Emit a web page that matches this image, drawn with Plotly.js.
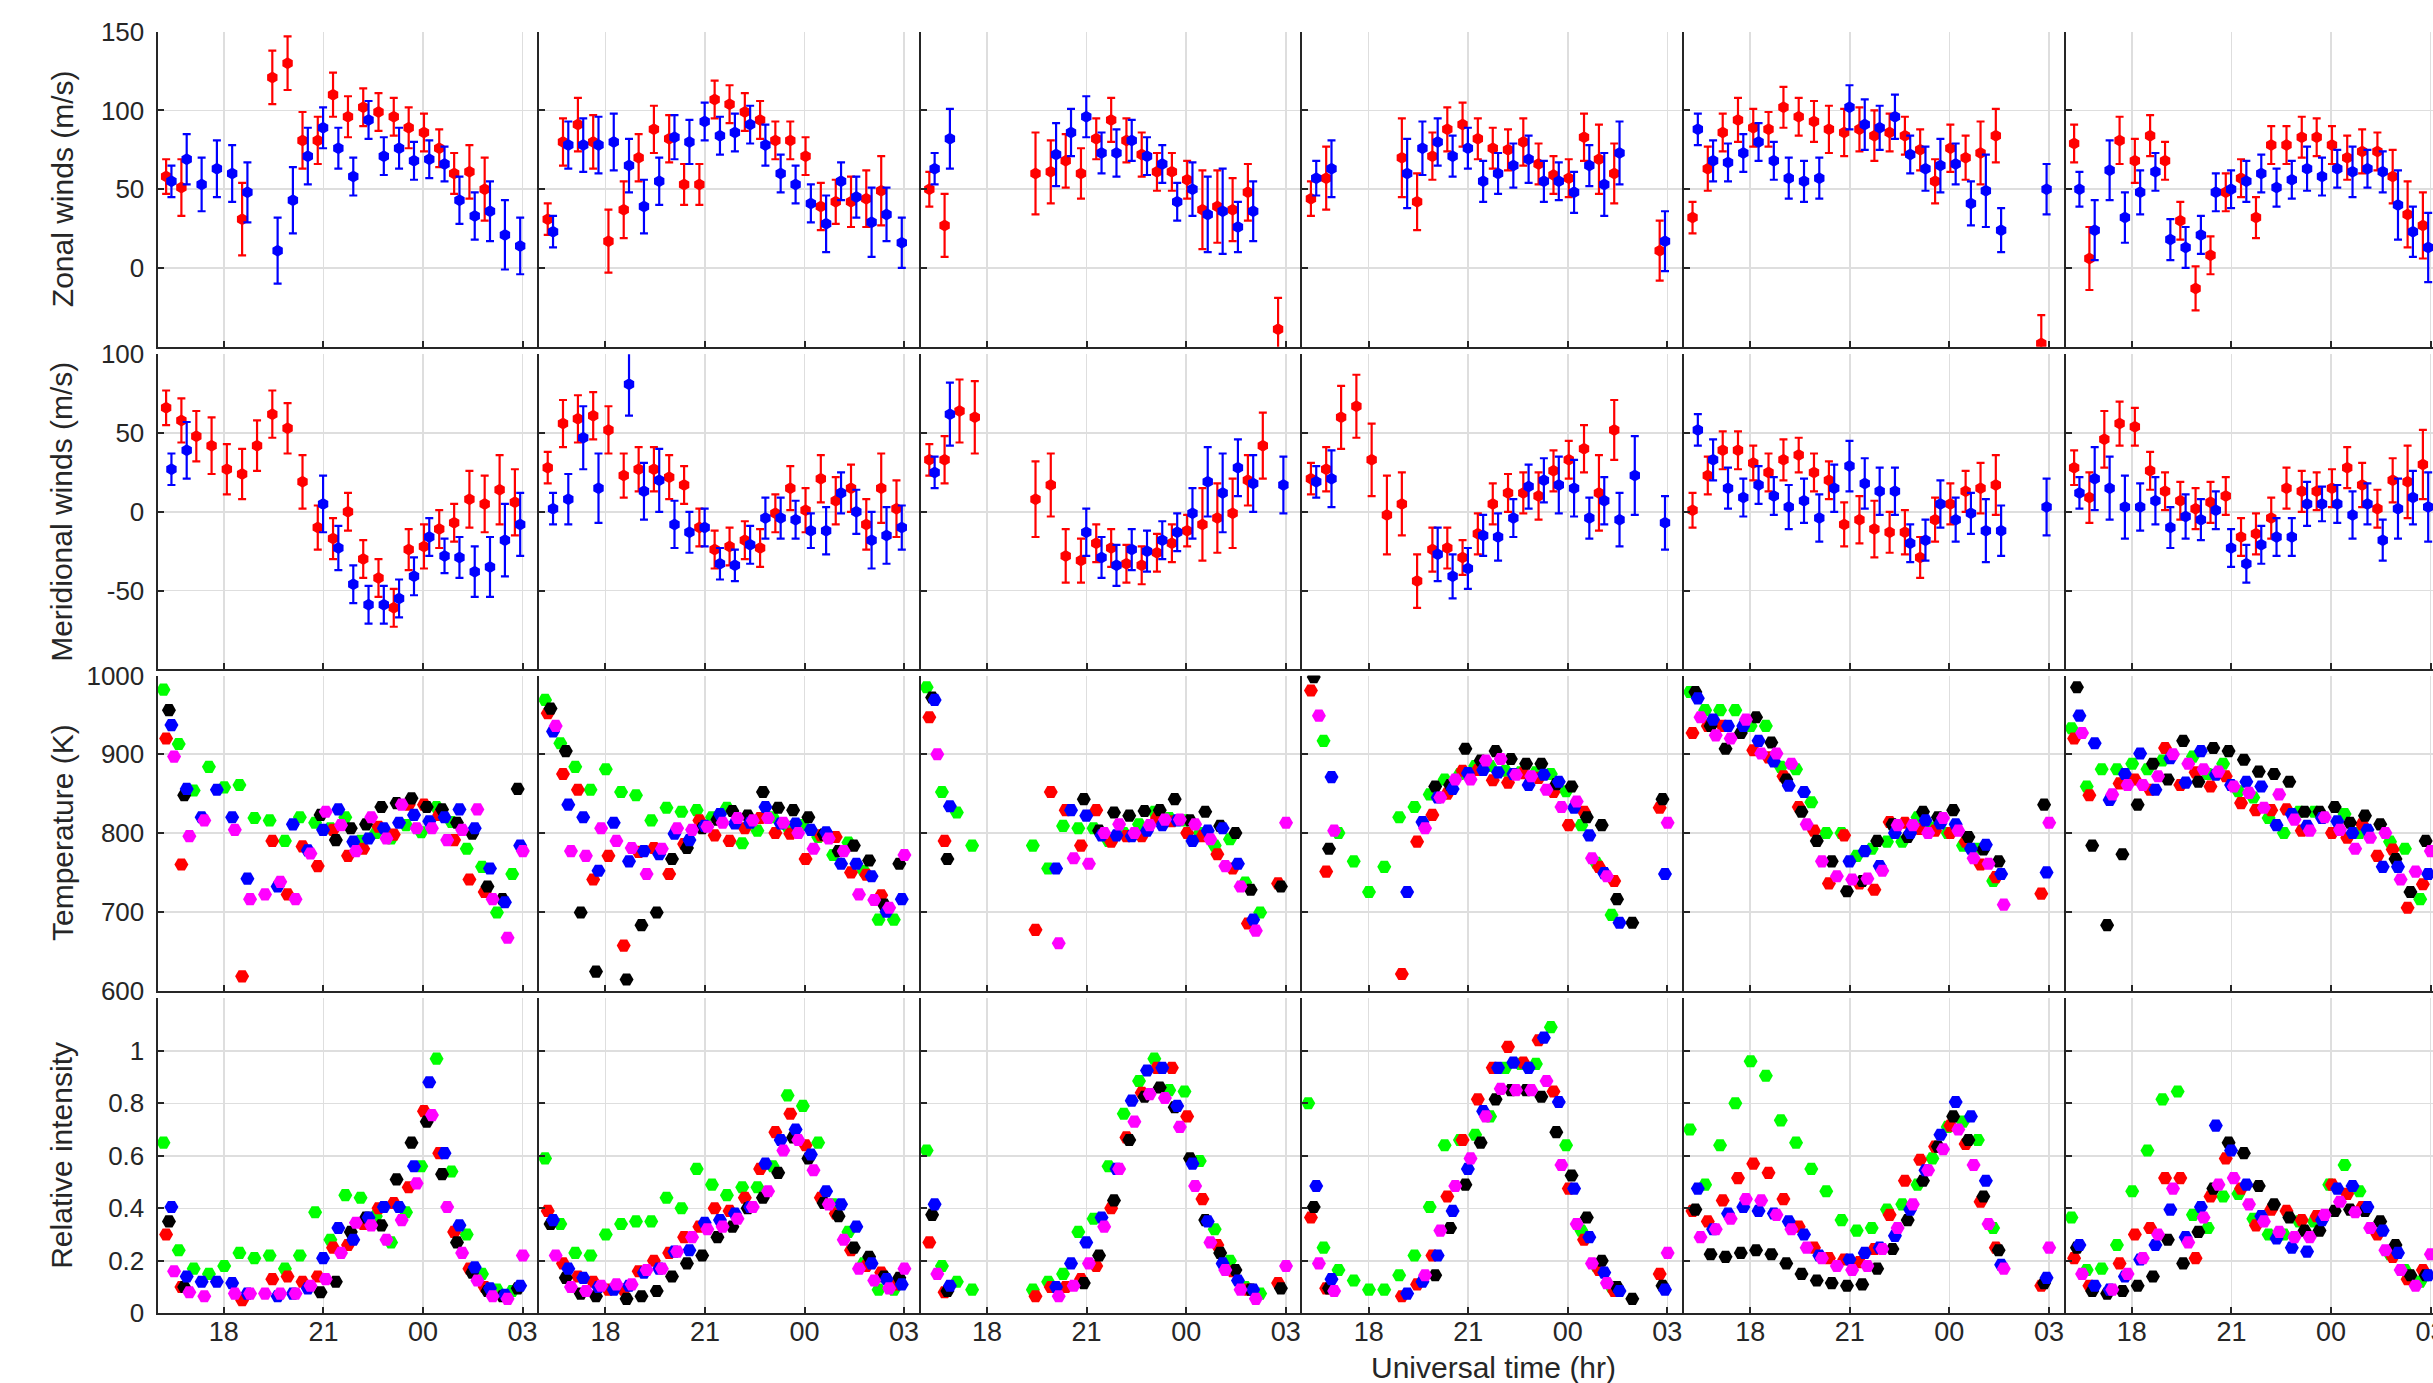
<!DOCTYPE html>
<html><head><meta charset="utf-8">
<script src="https://cdn.plot.ly/plotly-3.0.1.min.js"></script>
<style>html,body{margin:0;padding:0;overflow:hidden;background:#fff}</style>
</head><body><div id="chart"></div>
<script>
const N = null;
// sampling cycle start times (hours UT, >24 = after midnight) and per-filter lag (hours)
const cycleStart = [16.18,16.64,17.09,17.55,18.01,18.47,18.92,19.38,19.84,20.29,20.75,21.21,21.66,22.12,22.58,23.04,23.49,23.95,24.41,24.86,25.32,25.78,26.23,26.69];
const filterLag = {green:0, red:0.08, black:0.165, blue:0.24, magenta:0.32};
const timeTickVals = [18,21,24,27];
const timeTickText = ['18','21','00','03'];
const rowTitles = ['Zonal winds (m/s)','Meridional winds (m/s)','Temperature (K)','Relative intensity'];
const xTitle = 'Universal time (hr)';

// ---- Night 1 ----
const zonRed1=[58,51,N,N,N,31,N,121,130,81,81,110,96,102,99,96,89,86,76,60,61,50,N,N];
const zonRedErr1=[11,18,0,0,0,23,0,17,17,18,15,14,13,12,12,12,13,12,12,13,17,20,0,0];
const zonBlue1=[55,69,53,63,60,48,N,11,43,71,89,76,58,94,71,76,68,69,66,43,33,36,21,14];
const zonBlueErr1=[10,16,17,18,18,19,0,21,21,18,13,13,12,12,12,13,12,12,11,15,15,19,22,18];
const merRed1=[66,58,48,42,27,24,42,62,53,19,-10,-17,0,-30,-42,-61,-24,-22,-11,-7,8,5,14,6];
const merRedErr1=[11,14,16,18,16,16,16,15,16,17,14,13,12,12,12,12,13,14,12,12,18,18,22,21];
const merBlue1=[27,39,N,N,N,N,N,N,N,N,5,-23,-46,-59,-59,-55,-41,-16,-28,-29,-38,-35,-18,-8];
const merBlueErr1=[10,18,0,0,0,0,0,0,0,0,18,14,12,12,12,12,12,12,11,13,16,19,23,20];
const tGreen1=[982,913,854,884,858,861,819,816,790,820,813,806,820,790,800,793,810,801,833,814,780,757,699,748];
const tRed1=[920,760,N,N,N,618,N,790,722,783,758,804,771,780,808,798,836,836,823,791,741,725,N,N];
const tBlack1=[956,848,N,N,N,N,N,N,N,N,823,791,806,811,833,838,844,833,830,813,799,732,716,856];
const tBlue1=[937,856,820,855,820,742,N,732,811,778,804,830,789,793,806,813,823,815,820,830,806,755,712,784];
const tMag1=[897,796,816,N,804,716,722,738,716,774,827,810,777,820,793,836,806,806,791,804,830,716,667,777];
const iGreen1=[0.65,0.24,0.17,0.15,0.18,0.23,0.21,0.22,0.17,0.22,0.385,0.28,0.45,0.44,0.37,0.27,0.385,0.56,0.97,0.54,0.30,0.15,0.09,0.085];
const iRed1=[0.30,0.10,N,N,N,0.05,N,0.13,0.14,0.12,0.14,0.25,0.26,0.34,0.40,0.42,0.48,0.77,0.61,0.31,0.17,0.10,N,N];
const iBlack1=[0.35,0.10,N,N,N,N,N,N,N,N,0.08,0.12,0.31,0.365,0.335,0.51,0.65,0.73,0.53,0.27,0.155,0.085,0.065,0.095];
const iBlue1=[0.405,0.14,0.12,0.12,0.115,0.075,N,0.065,0.075,0.095,0.21,0.325,0.28,0.365,0.405,0.405,0.56,0.88,0.61,0.335,0.175,0.095,0.07,0.105];
const iMag1=[0.16,0.08,0.065,N,0.075,0.075,0.075,0.075,0.075,0.105,0.13,0.23,0.345,0.335,0.28,0.355,0.495,0.755,0.405,0.23,0.125,0.065,0.055,0.22];

// ---- Night 2 ----
const zonRed2=[31,80,91,80,17,37,70,88,82,53,53,107,104,99,94,81,81,71,39,42,42,44,49,N];
const zonRedErr2=[10,15,17,17,20,18,15,15,15,13,13,12,12,12,12,12,12,12,15,14,16,18,22,0];
const zonBlue2=[23,78,78,78,80,65,39,55,83,80,93,84,86,91,78,60,53,41,28,55,45,29,34,16];
const zonBlueErr2=[10,15,17,18,18,17,17,15,14,14,12,12,12,12,13,12,12,12,18,12,13,22,17,16];
const merRed2=[28,56,59,61,52,23,27,27,22,17,-10,-24,-22,-18,-23,-1,15,1,21,7,15,-8,15,2];
const merRedErr2=[10,15,15,15,15,14,14,14,14,12,12,12,12,12,12,12,14,14,15,15,15,16,22,18];
const merBlue2=[2,8,47,15,N,81,13,20,-8,-13,-10,-33,-34,-21,-4,-4,-5,-12,-12,12,0,-18,-15,-10];
const merBlueErr2=[10,16,20,22,0,20,18,20,15,13,12,10,10,12,13,13,12,11,15,13,14,18,18,14];
const tGreen2=[969,914,884,855,881,852,848,816,832,827,829,820,832,787,803,820,808,810,795,772,788,752,690,690];
const tRed2=[952,875,855,741,771,657,776,781,748,786,816,797,790,806,819,800,799,767,797,795,750,747,721,N];
const tBlack2=[958,904,699,624,N,614,683,699,767,781,806,817,828,822,852,832,829,820,798,777,784,765,709,761];
const tBlue2=[929,836,820,752,813,764,777,773,799,791,809,824,812,813,833,812,812,804,801,761,761,745,700,716];
const tMag2=[936,777,771,806,790,781,748,780,806,804,808,813,819,816,819,813,800,780,793,777,722,715,705,772];
const iGreen2=[0.59,0.34,0.23,0.22,0.30,0.34,0.35,0.35,0.44,0.40,0.55,0.49,0.45,0.48,0.48,0.56,0.83,0.79,0.65,0.415,0.31,0.19,0.09,0.09];
const iRed2=[0.39,0.19,0.14,0.12,0.09,0.09,0.16,0.20,0.23,0.29,0.33,0.40,0.39,0.44,0.55,0.69,0.76,0.64,0.44,0.38,0.24,0.18,0.155,0.11];
const iBlack2=[0.34,0.135,0.075,0.065,N,0.055,0.065,0.085,0.14,0.19,0.22,0.29,0.33,0.40,0.44,0.535,0.67,0.59,0.42,0.37,0.25,0.215,0.14,0.135];
const iBlue2=[0.355,0.17,0.135,0.10,0.09,0.105,0.155,0.17,0.235,0.24,0.345,0.355,0.38,0.405,0.57,0.66,0.70,0.605,0.465,0.415,0.33,0.19,0.13,0.11];
const iMag2=[0.22,0.10,0.085,0.105,0.11,0.11,0.165,0.17,0.235,0.29,0.32,0.33,0.36,0.405,0.465,0.62,0.66,0.545,0.415,0.28,0.17,0.125,0.095,0.17];

// ---- Night 3 ----
const zonRed3=[50,27,N,N,N,N,N,60,61,68,60,82,94,81,72,61,61,56,37,39,37,48,N,-39];
const zonRedErr3=[11,20,0,0,0,0,0,26,20,17,16,13,14,14,14,12,12,12,25,23,20,18,0,20];
const zonBlue3=[63,82,N,N,N,N,N,N,72,86,96,73,73,81,71,66,42,50,34,36,26,36,N,N];
const zonBlueErr3=[10,19,0,0,0,0,0,0,20,15,13,13,15,13,12,12,12,17,24,27,16,19,0,0];
const merRed3=[33,33,64,60,N,N,N,8,17,-28,-31,-20,-23,-33,-34,-26,-20,-12,-8,-4,-1,20,42,N];
const merRedErr3=[10,15,20,23,0,0,0,24,20,17,14,12,12,12,12,12,12,10,23,22,22,16,21,0];
const merBlue3=[25,62,N,N,N,N,N,N,N,N,-13,-29,-34,-24,-25,-18,-13,-1,19,12,28,18,N,17];
const merBlueErr3=[10,20,0,0,0,0,0,0,0,0,15,13,13,13,13,12,12,16,22,25,18,18,0,18];
const tGreen3=[985,852,826,784,N,N,N,784,755,809,806,806,790,800,811,827,819,816,800,784,792,737,699,N];
const tRed3=[947,790,N,N,N,N,N,677,852,829,784,829,789,796,796,819,815,800,796,773,755,685,N,736];
const tBlack3=[972,767,N,N,N,N,N,N,N,N,843,803,826,822,828,829,843,816,827,809,800,728,N,732];
const tBlue3=[969,834,N,N,N,N,N,N,755,829,822,797,797,796,803,810,816,790,803,806,761,690,N,N];
const tMag3=[900,N,N,N,N,N,N,N,660,768,761,800,811,800,810,817,817,811,792,758,732,676,N,813];
const iGreen3=[0.62,0.18,0.12,0.09,N,N,N,0.09,0.12,0.15,0.31,0.36,0.56,0.76,0.885,0.97,0.85,0.845,0.58,0.32,0.20,0.10,0.075,N];
const iRed3=[0.27,0.08,N,N,N,N,N,0.065,0.10,0.10,0.13,0.18,0.40,0.67,0.84,0.935,0.935,0.75,0.435,0.26,0.16,0.09,N,0.115];
const iBlack3=[0.375,0.085,N,N,N,N,N,N,N,N,0.115,0.22,0.43,0.66,0.825,0.86,0.785,0.59,0.355,0.23,0.165,0.09,N,0.095];
const iBlue3=[0.415,0.105,N,N,N,N,N,N,0.10,0.19,0.27,0.365,0.55,0.81,0.925,0.935,0.79,0.57,0.35,0.19,0.125,0.09,N,N];
const iMag3=[0.15,N,N,N,N,N,N,N,0.065,0.105,0.19,0.33,0.55,0.73,0.835,0.82,0.71,0.485,0.27,0.165,0.09,0.055,N,0.18];

// ---- Night 4 ----
const zonRed4=[44,57,N,N,N,N,70,42,71,88,91,82,76,75,80,66,59,57,83,69,60,N,N,11];
const zonRedErr4=[11,20,0,0,0,0,25,18,15,14,14,13,13,13,15,13,12,12,15,22,19,0,0,19];
const zonBlue4=[57,63,N,N,N,N,60,76,80,71,76,55,60,65,69,55,55,48,65,53,73,N,N,17];
const zonBlueErr4=[11,18,0,0,0,0,22,17,15,13,13,13,13,14,15,13,12,13,13,20,20,0,0,19];
const merRed4=[21,27,60,67,33,-2,5,-44,-24,-23,-29,-14,5,12,12,10,26,33,40,12,52,N,N,N];
const merRedErr4=[10,14,20,20,23,25,20,17,14,13,11,13,13,12,13,15,13,12,15,24,19,0,0,0];
const merBlue4=[19,21,N,N,N,N,N,N,-27,-41,-36,-15,-16,-4,16,20,17,15,-4,7,-5,23,N,-7];
const merBlueErr4=[10,18,0,0,0,0,0,0,17,14,13,13,15,12,14,14,18,18,13,15,17,25,0,17];
const tGreen4=[N,917,800,764,725,757,820,833,849,868,875,885,885,879,877,877,875,853,810,762,696,N,N,N];
const tRed4=[981,751,N,N,N,N,621,789,823,850,879,880,867,864,876,870,852,810,827,757,739,N,N,832];
const tBlack4=[998,780,N,N,N,N,N,N,859,861,907,892,904,894,888,888,862,859,820,810,716,686,N,843];
const tBlue4=[N,871,N,N,N,N,725,814,845,856,876,880,877,875,861,874,865,832,797,749,686,N,N,748];
const tMag4=[949,803,N,N,N,N,N,806,845,868,868,892,894,874,872,855,833,840,768,745,N,N,N,813];
const iGreen4=[0.80,0.25,0.165,0.125,0.09,0.09,0.145,0.22,0.405,0.64,0.66,0.68,0.75,0.935,0.95,0.95,1.09,0.64,0.315,0.18,0.10,N,N,N];
const iRed4=[0.365,0.095,N,N,N,N,0.065,0.11,0.22,0.445,0.66,0.815,0.935,1.015,0.955,1.04,0.845,0.475,0.28,0.165,0.085,N,N,0.15];
const iBlack4=[0.405,0.095,N,N,N,N,N,N,0.145,0.325,0.49,0.65,0.815,0.85,0.85,0.825,0.69,0.525,0.365,0.20,0.10,0.055,N,0.105];
const iBlue4=[0.485,0.13,N,N,N,N,0.075,0.12,0.22,0.39,0.55,0.77,0.935,0.955,0.935,1.05,0.805,0.475,0.29,0.155,0.085,N,N,0.09];
const iMag4=[0.19,0.085,N,N,N,N,N,0.145,0.315,0.485,0.59,0.75,0.855,0.85,0.85,0.885,0.565,0.34,0.19,0.115,N,N,N,0.23];

// ---- Night 5 ----
const zonRed5=[32,63,86,94,89,88,102,96,93,88,86,88,84,86,84,75,55,76,70,73,84,N,N,-48];
const zonRedErr5=[10,14,12,14,12,11,13,12,13,15,15,14,16,12,12,13,14,15,14,20,17,0,0,18];
const zonBlue5=[88,68,67,73,80,68,57,55,57,N,102,91,89,96,72,63,65,66,41,49,24,N,N,50];
const zonBlueErr5=[10,13,12,12,12,12,13,13,13,0,14,16,14,14,12,14,17,13,14,23,14,0,0,16];
const merRed5=[1,23,39,39,31,25,33,36,25,20,-8,-5,-11,-13,-13,-29,-5,5,13,15,17,N,N,N];
const merRedErr5=[11,12,12,12,11,12,13,11,12,12,14,15,18,13,14,13,14,13,13,16,19,0,0,0];
const merBlue5=[52,33,15,9,17,10,3,7,-4,15,29,18,13,13,-20,-18,5,-5,-1,-12,-12,N,N,3];
const merBlueErr5=[10,13,13,12,12,12,14,14,15,15,16,16,15,15,12,13,15,14,13,20,16,0,0,18];
const tGreen5=[979,956,956,956,936,936,884,881,839,800,800,771,780,789,789,820,807,800,784,780,739,N,N,N];
const tRed5=[927,936,936,N,905,896,872,833,803,736,797,736,728,814,813,805,803,800,789,760,744,N,N,723];
const tBlack5=[979,936,907,927,947,915,868,827,790,764,726,739,790,811,795,827,820,829,795,779,764,N,N,836];
const tBlue5=[971,944,936,936,917,891,860,852,N,N,764,777,758,800,800,816,812,811,780,785,748,N,N,750];
const tMag5=[947,924,920,944,901,901,888,811,764,745,741,742,752,810,810,800,819,803,768,761,709,N,N,813];
const iGreen5=[0.70,0.49,0.64,0.80,0.96,0.905,0.735,0.65,0.55,0.465,0.355,0.315,0.325,0.395,0.415,0.49,0.59,0.71,0.73,0.66,0.325,N,N,N];
const iRed5=[0.39,0.35,0.43,0.515,0.57,0.535,0.435,0.33,0.25,0.21,0.205,0.195,0.245,0.375,0.505,0.585,0.635,0.715,0.645,0.425,0.25,N,N,0.105];
const iBlack5=[0.395,0.225,0.215,0.23,0.24,0.225,0.19,0.15,0.125,0.115,0.105,0.11,0.17,0.245,0.355,0.505,0.635,0.75,0.66,0.445,0.24,N,N,0.115];
const iBlue5=[0.475,0.32,0.38,0.405,0.39,0.38,0.35,0.30,0.22,N,0.205,0.23,0.25,0.295,0.395,0.545,0.68,0.805,0.75,0.505,0.185,N,N,0.135];
const iMag5=[0.29,0.32,0.36,0.435,0.43,0.375,0.32,0.25,0.21,0.18,0.165,0.18,0.245,0.325,0.415,0.545,0.625,0.70,0.565,0.34,0.17,N,N,0.25];

// ---- Night 6 ----
const zonRed6=[79,6,N,81,68,84,68,30,-13,8,48,57,32,78,78,83,83,78,70,74,74,58,34,27];
const zonRedErr6=[12,20,0,15,14,13,12,12,14,12,12,12,13,12,12,13,12,12,14,14,12,17,21,21];
const zonBlue6=[50,24,62,32,48,61,18,13,21,48,50,55,60,51,56,63,58,63,61,63,61,40,23,13];
const zonBlueErr6=[11,19,19,16,14,12,13,13,12,12,12,13,12,12,12,14,12,12,16,12,13,22,16,22];
const merRed6=[28,9,46,56,54,26,13,7,2,6,10,-16,-14,-4,15,13,13,15,28,17,2,20,19,30];
const merRedErr6=[11,16,18,14,12,12,12,12,13,13,12,12,13,13,13,13,12,12,13,14,12,14,23,22];
const merBlue6=[12,21,15,3,3,7,-10,-3,-5,1,-23,-33,-21,-16,-16,5,5,5,-2,5,-18,2,9,3];
const merBlueErr6=[10,20,20,20,15,15,13,14,13,12,12,12,12,12,12,14,11,12,15,13,13,19,17,22];
const tGreen6=[933,859,881,881,888,881,892,N,897,875,888,853,845,819,800,827,827,N,824,800,N,789,780,716];
const tRed6=[920,848,N,863,868,855,908,861,877,859,872,838,829,829,830,803,N,800,794,811,771,779,705,735];
const tBlack6=[985,784,683,773,836,888,868,917,865,908,904,893,878,875,865,827,827,833,813,822,811,767,725,790];
const tBlue6=[949,914,842,875,901,855,895,864,904,874,861,865,859,810,824,809,819,815,800,804,757,757,N,748];
const tMag6=[927,N,849,861,861,872,900,888,881,878,859,851,832,849,817,803,820,804,780,794,800,741,751,777];
const iGreen6=[0.365,0.165,0.17,0.26,0.465,0.62,0.815,0.845,0.375,0.325,0.445,0.455,0.36,0.30,0.30,0.35,0.35,0.49,0.565,0.465,N,0.225,0.165,0.12];
const iRed6=[0.21,0.105,N,0.19,0.30,0.325,0.515,0.515,0.21,0.445,0.59,0.475,0.335,0.395,0.39,0.355,0.37,0.49,0.455,0.405,0.30,0.215,0.13,0.165];
const iBlack6=[0.25,0.085,0.075,0.085,0.105,0.14,0.28,0.19,0.31,0.475,0.65,0.61,0.485,0.415,0.365,0.315,0.315,0.39,0.395,0.39,0.35,0.26,0.145,0.145];
const iBlue6=[0.26,0.105,0.09,0.14,0.205,0.26,0.395,0.29,0.405,0.715,0.62,0.49,0.37,0.285,0.25,0.235,0.355,0.475,0.485,0.405,0.315,0.23,N,0.145];
const iMag6=[0.15,N,0.09,0.15,0.21,0.30,0.475,0.27,0.365,0.49,0.515,0.415,0.35,0.31,0.29,0.29,0.375,0.425,0.385,0.325,0.24,0.165,0.105,0.225];

// ---------------- build ----------------
const nights = [
 {zr:zonRed1,zre:zonRedErr1,zb:zonBlue1,zbe:zonBlueErr1,mr:merRed1,mre:merRedErr1,mb:merBlue1,mbe:merBlueErr1,
  t:{green:tGreen1,red:tRed1,black:tBlack1,blue:tBlue1,magenta:tMag1},i:{green:iGreen1,red:iRed1,black:iBlack1,blue:iBlue1,magenta:iMag1}},
 {zr:zonRed2,zre:zonRedErr2,zb:zonBlue2,zbe:zonBlueErr2,mr:merRed2,mre:merRedErr2,mb:merBlue2,mbe:merBlueErr2,
  t:{green:tGreen2,red:tRed2,black:tBlack2,blue:tBlue2,magenta:tMag2},i:{green:iGreen2,red:iRed2,black:iBlack2,blue:iBlue2,magenta:iMag2}},
 {zr:zonRed3,zre:zonRedErr3,zb:zonBlue3,zbe:zonBlueErr3,mr:merRed3,mre:merRedErr3,mb:merBlue3,mbe:merBlueErr3,
  t:{green:tGreen3,red:tRed3,black:tBlack3,blue:tBlue3,magenta:tMag3},i:{green:iGreen3,red:iRed3,black:iBlack3,blue:iBlue3,magenta:iMag3}},
 {zr:zonRed4,zre:zonRedErr4,zb:zonBlue4,zbe:zonBlueErr4,mr:merRed4,mre:merRedErr4,mb:merBlue4,mbe:merBlueErr4,
  t:{green:tGreen4,red:tRed4,black:tBlack4,blue:tBlue4,magenta:tMag4},i:{green:iGreen4,red:iRed4,black:iBlack4,blue:iBlue4,magenta:iMag4}},
 {zr:zonRed5,zre:zonRedErr5,zb:zonBlue5,zbe:zonBlueErr5,mr:merRed5,mre:merRedErr5,mb:merBlue5,mbe:merBlueErr5,
  t:{green:tGreen5,red:tRed5,black:tBlack5,blue:tBlue5,magenta:tMag5},i:{green:iGreen5,red:iRed5,black:iBlack5,blue:iBlue5,magenta:iMag5}},
 {zr:zonRed6,zre:zonRedErr6,zb:zonBlue6,zbe:zonBlueErr6,mr:merRed6,mre:merRedErr6,mb:merBlue6,mbe:merBlueErr6,
  t:{green:tGreen6,red:tRed6,black:tBlack6,blue:tBlue6,magenta:tMag6},i:{green:iGreen6,red:iRed6,black:iBlack6,blue:iBlue6,magenta:iMag6}}
];

const COLORS = {green:'#00ff00', red:'#ff0000', black:'#000000', blue:'#0000ff', magenta:'#ff00ff'};
const FILTER_ORDER = ['green','red','black','blue','magenta'];
const W = 2460, H = 1383;
const colLeft = [157.5, 539.1, 920.7, 1302.3, 1683.9, 2065.5], colW = 381.6;
const rowTop = [31.7, 354.3, 675.5, 998.3], rowH = 315;
const FONT = 'Liberation Sans, Arial, Helvetica, sans-serif';
const INK = '#262626';

const rowAxis = [
  {range:[-50,150], tickvals:[-50,0,50,100,150], ticktext:['','0','50','100','150']},
  {range:[-100,100], tickvals:[-100,-50,0,50,100], ticktext:['','-50','0','50','100']},
  {range:[600,1000], tickvals:[600,700,800,900,1000], ticktext:['600','700','800','900','1000']},
  {range:[0,1.2], tickvals:[0,0.2,0.4,0.6,0.8,1,1.2], ticktext:['0','0.2','0.4','0.6','0.8','1','']}
];

const layout = {
  width: W, height: H, margin:{l:0,r:0,t:0,b:0},
  paper_bgcolor:'#ffffff', plot_bgcolor:'rgba(0,0,0,0)',
  showlegend:false, font:{family:FONT, color:INK, size:27},
  annotations:[]
};
const traces = [];
const times = f => cycleStart.map(t => t + filterLag[f]);

for (let r = 0; r < 4; r++) {
  for (let c = 0; c < 6; c++) {
    const p = r*6 + c + 1;
    const xk = p === 1 ? 'xaxis' : 'xaxis'+p;
    const yk = p === 1 ? 'yaxis' : 'yaxis'+p;
    const xid = p === 1 ? 'x' : 'x'+p;
    const yid = p === 1 ? 'y' : 'y'+p;
    layout[xk] = {
      domain:[colLeft[c]/W, (colLeft[c]+colW)/W], anchor:yid,
      range:[16,27.5], tickvals:timeTickVals, ticktext:timeTickText,
      showticklabels: r === 3, ticks:'inside', ticklen:6, tickwidth:2, tickcolor:INK,
      showline:true, linecolor:INK, linewidth:2, showgrid:true, gridcolor:'#dedede', gridwidth:1.6,
      zeroline:false, tickfont:{family:FONT, size:27, color:INK}, ticklabelstandoff:-7, fixedrange:true
    };
    const ra = rowAxis[r];
    layout[yk] = {
      domain:[1-(rowTop[r]+rowH)/H, 1-rowTop[r]/H], anchor:xid,
      range:ra.range, tickvals:ra.tickvals, ticktext:ra.ticktext,
      showticklabels: c === 0, ticks:'inside', ticklen:6, tickwidth:2, tickcolor:INK,
      showline:true, linecolor:INK, linewidth:2, showgrid:true, gridcolor:'#dedede', gridwidth:1.6,
      zeroline:false, tickfont:{family:FONT, size:26, color:INK}, ticklabelstandoff:6, fixedrange:true
    };
    const nd = nights[c];
    if (r < 2) {
      const pairs = r === 0 ? [['red',nd.zr,nd.zre],['blue',nd.zb,nd.zbe]] : [['red',nd.mr,nd.mre],['blue',nd.mb,nd.mbe]];
      pairs.forEach(([f, vals, errs]) => {
        traces.push({
          type:'scatter', mode:'markers', xaxis:xid, yaxis:yid,
          x: times(f), y: vals,
          error_y:{type:'data', array:errs, visible:true, color:COLORS[f], thickness:2.2, width:4},
          marker:{symbol:'hexagon', size:12, color:COLORS[f], line:{width:0}},
          hoverinfo:'skip'
        });
      });
    } else {
      const src = r === 2 ? nd.t : nd.i;
      FILTER_ORDER.forEach(f => {
        traces.push({
          type:'scatter', mode:'markers', xaxis:xid, yaxis:yid,
          x: times(f), y: src[f],
          marker:{symbol:'hexagon2', size:14, color:COLORS[f], line:{width:0}},
          hoverinfo:'skip'
        });
      });
    }
  }
}

// axis titles
const rowCenters = rowTop.map(t => t + rowH/2);
rowTitles.forEach((txt, r) => {
  layout.annotations.push({
    text: txt, xref:'paper', yref:'paper', x: 62/W, y: 1 - rowCenters[r]/H,
    xanchor:'center', yanchor:'middle', textangle:-90, showarrow:false,
    font:{family:FONT, size:30, color:INK}
  });
});
layout.annotations.push({
  text: xTitle, xref:'paper', yref:'paper', x: 1493/W, y: 1 - 1367/H,
  xanchor:'center', yanchor:'middle', showarrow:false,
  font:{family:FONT, size:30, color:INK}
});

Plotly.newPlot('chart', traces, layout, {staticPlot:true, displayModeBar:false});
</script>
</body></html>
